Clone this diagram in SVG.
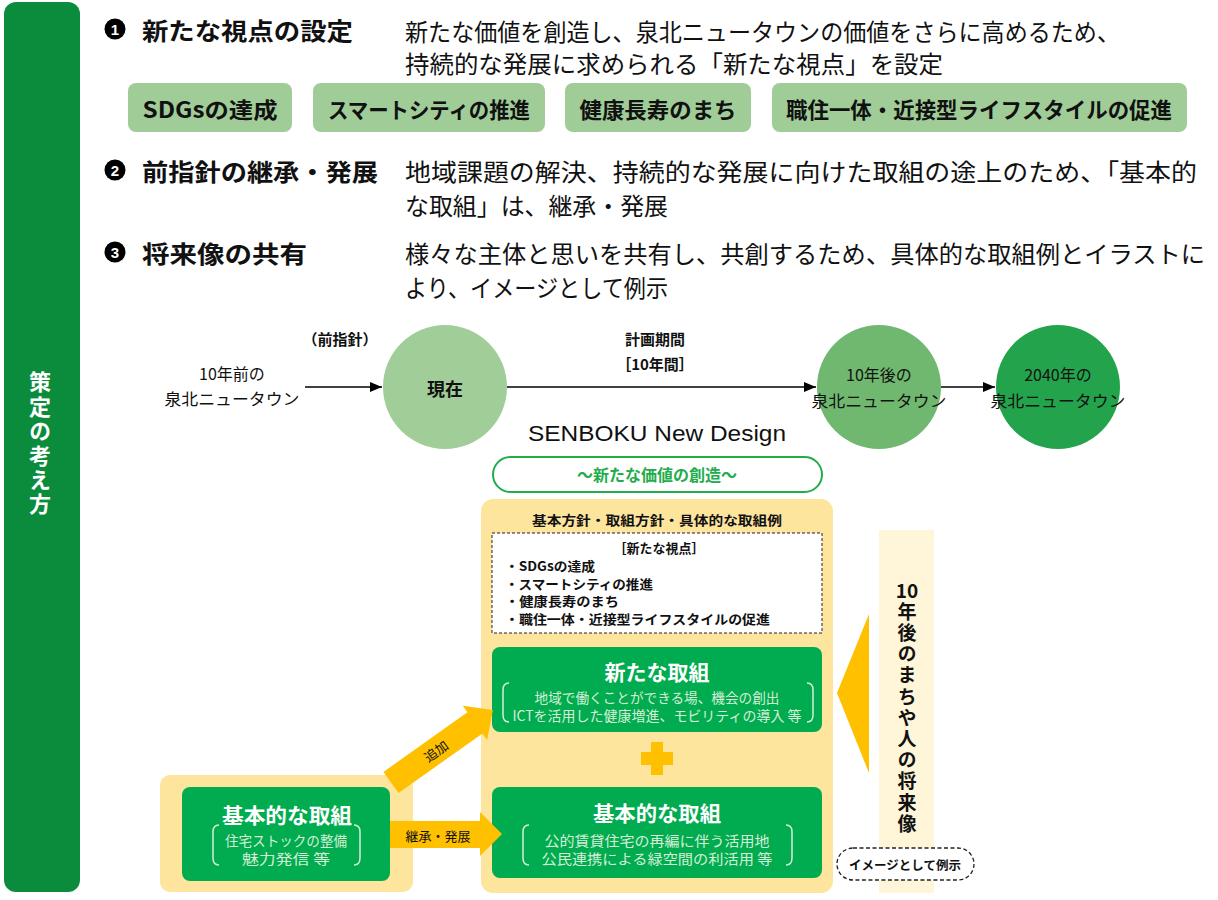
<svg xmlns="http://www.w3.org/2000/svg" width="1218" height="900" viewBox="0 0 1218 900">
<style>
text{font-family:"Noto Sans CJK JP","Noto Sans",sans-serif;fill:#111;dominant-baseline:central}
.b{font-weight:700}
.c{text-anchor:middle}
.desc{font-size:24px}
.ttl{font-size:24px;font-weight:700}
.num{fill:#fff;font-size:15px;font-weight:700;text-anchor:middle;font-family:"Liberation Sans",sans-serif}
.chipt{font-size:22px;font-weight:700;text-anchor:middle}
.chip{fill:#a0cc98}
.tl{font-size:16px}
.tlb{font-size:15px;font-weight:700}
.gbox{fill:#00ac4f}
.gt{fill:#fff;font-size:21px;font-weight:700;text-anchor:middle}
.gs{fill:#d6eed6;font-size:14px;text-anchor:middle}
.brk{fill:none;stroke:#d6eed6;stroke-width:1.5}
.yel{fill:#fee59e}
.arw{fill:#ffc000}
.ln{stroke:#000;stroke-width:1.5;fill:none}
.sm{font-size:13px;font-weight:700}
.vert{writing-mode:vertical-rl;text-orientation:upright;font-weight:700}
</style>
<defs>
<marker id="ah" markerWidth="12" markerHeight="10" refX="12" refY="5" orient="auto" markerUnits="userSpaceOnUse">
<path d="M0,0 L12,5 L0,10 Z" fill="#000"/>
</marker>
</defs>

<g id="sidebar">
<rect x="4" y="2" width="76" height="890" rx="12" fill="#0b8c3d"/>
<text x="40" y="371" class="vert" font-size="22" letter-spacing="2.4" style="fill:#fff">策定の考え方</text>
</g>

<g id="section1">
<circle cx="115" cy="29" r="10.5" fill="#000"/>
<text x="115" y="29.5" class="num">1</text>
<text x="142" y="29" class="ttl" textLength="211" lengthAdjust="spacingAndGlyphs">新たな視点の設定</text>
<text x="405" y="30" class="desc" textLength="715" lengthAdjust="spacingAndGlyphs">新たな価値を創造し、泉北ニュータウンの価値をさらに高めるため、</text>
<text x="405" y="62" class="desc" textLength="538" lengthAdjust="spacingAndGlyphs">持続的な発展に求められる「新たな視点」を設定</text>
</g>

<g id="chip1"><rect class="chip" x="128" y="83" width="164" height="49" rx="8"/><text x="210" y="108" class="chipt" textLength="135" lengthAdjust="spacingAndGlyphs">SDGsの達成</text></g>
<g id="chip2"><rect class="chip" x="313" y="83" width="232" height="49" rx="8"/><text x="429" y="108" class="chipt" textLength="202" lengthAdjust="spacingAndGlyphs">スマートシティの推進</text></g>
<g id="chip3"><rect class="chip" x="565" y="83" width="186" height="49" rx="8"/><text x="658" y="108" class="chipt" textLength="157" lengthAdjust="spacingAndGlyphs">健康長寿のまち</text></g>
<g id="chip4"><rect class="chip" x="772" y="83" width="415" height="49" rx="8"/><text x="979" y="108" class="chipt" textLength="386" lengthAdjust="spacingAndGlyphs">職住一体・近接型ライフスタイルの促進</text></g>

<g id="section2">
<circle cx="115" cy="170" r="10.5" fill="#000"/>
<text x="115" y="170.5" class="num">2</text>
<text x="142" y="170" class="ttl" textLength="236" lengthAdjust="spacingAndGlyphs">前指針の継承・発展</text>
<text x="405" y="170" class="desc" textLength="792" lengthAdjust="spacingAndGlyphs">地域課題の解決、持続的な発展に向けた取組の途上のため、「基本的</text>
<text x="405" y="204" class="desc" textLength="263" lengthAdjust="spacingAndGlyphs">な取組」は、継承・発展</text>
</g>

<g id="section3">
<circle cx="115" cy="252" r="10.5" fill="#000"/>
<text x="115" y="252.5" class="num">3</text>
<text x="142" y="252" class="ttl" textLength="165" lengthAdjust="spacingAndGlyphs">将来像の共有</text>
<text x="405" y="252" class="desc" textLength="800" lengthAdjust="spacingAndGlyphs">様々な主体と思いを共有し、共創するため、具体的な取組例とイラストに</text>
<text x="405" y="286" class="desc" textLength="263" lengthAdjust="spacingAndGlyphs">より、イメージとして例示</text>
</g>

<g id="timeline-labels">
<text x="340" y="338" class="tlb c">（前指針）</text>
<text x="232" y="373" class="tl c">10年前の</text>
<text x="232" y="398" class="tl c" textLength="135" lengthAdjust="spacingAndGlyphs">泉北ニュータウン</text>
<text x="655" y="338" class="tlb c">計画期間</text>
<text x="655" y="363" class="tlb c">［10年間］</text>
</g>

<g id="node-now">
<circle cx="445" cy="387" r="62" fill="#a0cd98"/>
<text x="445" y="388" class="c b" font-size="18">現在</text>
</g>
<g id="node-10years">
<circle cx="879" cy="387" r="62" fill="#70b86f"/>
<text x="879" y="374" class="tl c">10年後の</text>
<text x="879" y="400" class="tl c" textLength="135" lengthAdjust="spacingAndGlyphs">泉北ニュータウン</text>
</g>
<g id="node-2040">
<circle cx="1058" cy="387" r="62" fill="#23a34c"/>
<text x="1058" y="374" class="tl c">2040年の</text>
<text x="1058" y="400" class="tl c" textLength="135" lengthAdjust="spacingAndGlyphs">泉北ニュータウン</text>
</g>

<g id="title-design">
<text x="657" y="433" class="c" font-size="22" style="font-family:'Liberation Sans',sans-serif" textLength="258" lengthAdjust="spacingAndGlyphs">SENBOKU New Design</text>
<rect x="493" y="457" width="329" height="35" rx="17.5" fill="#fff" stroke="#22ac4c" stroke-width="2"/>
<text x="657" y="474" class="c b" font-size="16" style="fill:#22ac4c">～新たな価値の創造～</text>
</g>

<g id="main-box">
<rect class="yel" x="481" y="499" width="352" height="394" rx="12"/>
<text x="657" y="519" class="c sm" font-size="14" textLength="250" lengthAdjust="spacingAndGlyphs">基本方針・取組方針・具体的な取組例</text>
</g>

<g id="viewpoints">
<rect x="492" y="533" width="330" height="100" fill="#fff" stroke="#222" stroke-width="1" stroke-dasharray="3,2"/>
<text x="659" y="547" class="c sm">［新たな視点］</text>
<text x="505" y="565" class="sm" textLength="90" lengthAdjust="spacingAndGlyphs">・SDGsの達成</text>
<text x="505" y="583" class="sm" textLength="148" lengthAdjust="spacingAndGlyphs">・スマートシティの推進</text>
<text x="505" y="600" class="sm" textLength="114" lengthAdjust="spacingAndGlyphs">・健康長寿のまち</text>
<text x="505" y="618" class="sm" textLength="265" lengthAdjust="spacingAndGlyphs">・職住一体・近接型ライフスタイルの促進</text>
</g>

<g id="new-initiatives">
<rect class="gbox" x="492" y="647" width="330" height="85" rx="8"/>
<text x="657" y="671" class="gt" textLength="105" lengthAdjust="spacingAndGlyphs">新たな取組</text>
<text x="657" y="697" class="gs" textLength="245" lengthAdjust="spacingAndGlyphs">地域で働くことができる場、機会の創出</text>
<text x="657" y="715" class="gs" textLength="289" lengthAdjust="spacingAndGlyphs">ICTを活用した健康増進、モビリティの導入 等</text>
<path class="brk" d="M509,683 Q503,683 503,690 L503,715 Q503,722 509,722"/>
<path class="brk" d="M807,683 Q813,683 813,690 L813,715 Q813,722 807,722"/>
</g>

<g id="plus">
<rect class="arw" x="641" y="752" width="32" height="13"/>
<rect class="arw" x="651" y="742" width="12" height="33"/>
</g>

<g id="basic-initiatives">
<rect class="gbox" x="492" y="787" width="330" height="91" rx="8"/>
<text x="657" y="812" class="gt" textLength="128" lengthAdjust="spacingAndGlyphs">基本的な取組</text>
<text x="657" y="840" class="gs" font-size="15" textLength="225" lengthAdjust="spacingAndGlyphs">公的賃貸住宅の再編に伴う活用地</text>
<text x="657" y="858" class="gs" font-size="15" textLength="231" lengthAdjust="spacingAndGlyphs">公民連携による緑空間の利活用 等</text>
<path class="brk" d="M529,825 Q523,825 523,832 L523,858 Q523,865 529,865"/>
<path class="brk" d="M786,825 Q792,825 792,832 L792,858 Q792,865 786,865"/>
</g>

<g id="previous-basic">
<rect class="yel" x="160" y="775" width="253" height="117" rx="10"/>
<rect class="gbox" x="182" y="787" width="208" height="94" rx="8"/>
<text x="287" y="814" class="gt" textLength="130" lengthAdjust="spacingAndGlyphs">基本的な取組</text>
<text x="286" y="840" class="gs" textLength="122" lengthAdjust="spacingAndGlyphs">住宅ストックの整備</text>
<text x="286" y="858" class="gs" textLength="88" lengthAdjust="spacingAndGlyphs">魅力発信 等</text>
<path class="brk" d="M219,825 Q213,825 213,832 L213,858 Q213,865 219,865"/>
<path class="brk" d="M354,825 Q360,825 360,832 L360,858 Q360,865 354,865"/>
</g>

<g id="future-band">
<rect x="879" y="530" width="55" height="363" fill="#fff5d9"/>
<text x="907" y="589" class="c b" font-size="19">10</text>
<text x="907" y="602" class="vert" font-size="19" letter-spacing="2.2">年後のまちや人の将来像</text>
</g>

<g id="example-note">
<rect x="837" y="848" width="137" height="32" rx="16" fill="#fff" stroke="#222" stroke-width="1.3" stroke-dasharray="4,2.5"/>
<text x="905" y="864" class="c b" font-size="12.5">イメージとして例示</text>
</g>

<g id="connectors">
<line class="ln" x1="305" y1="387" x2="382" y2="387" marker-end="url(#ah)"/>
<line class="ln" x1="507" y1="387" x2="816" y2="387" marker-end="url(#ah)"/>
<line class="ln" x1="941" y1="387" x2="995" y2="387" marker-end="url(#ah)"/>
<g id="arrow-inherit">
<path class="arw" d="M390,821 L480,821 L480,812 L502,834 L480,856 L480,848 L390,848 Z"/>
<text x="438" y="835" class="c" font-size="13">継承・発展</text>
</g>
<g id="arrow-add" transform="translate(391,782.5) rotate(-35.4)">
<path class="arw" d="M0,-13 L103,-13 L103,-21 L125,0 L103,21 L103,13 L0,13 Z"/>
<text x="55" y="0" class="c" font-size="13">追加</text>
</g>
<path class="arw" d="M837,693 L869,614 L869,773 Z"/>
</g>
</svg>
